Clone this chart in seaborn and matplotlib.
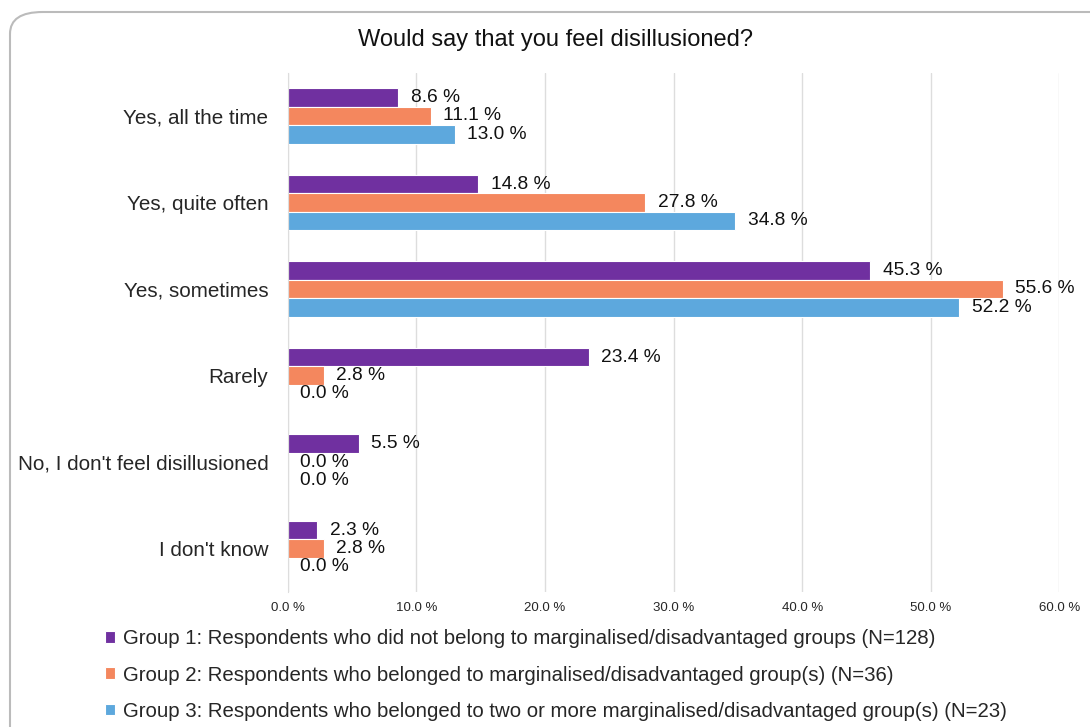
import pandas as pd
import seaborn as sns
import matplotlib.pyplot as plt
from matplotlib.patches import FancyBboxPatch

answers = ["Yes, all the time", "Yes, quite often", "Yes, sometimes", "Rarely",
           "No, I don't feel disillusioned", "I don't know"]
groups = ["Group 1: Respondents who did not belong to marginalised/disadvantaged groups (N=128)",
          "Group 2: Respondents who belonged to marginalised/disadvantaged group(s) (N=36)",
          "Group 3: Respondents who belonged to two or more marginalised/disadvantaged group(s) (N=23)"]
group1 = [8.6, 14.8, 45.3, 23.4, 5.5, 2.3]
group2 = [11.1, 27.8, 55.6, 2.8, 0.0, 2.8]
group3 = [13.0, 34.8, 52.2, 0.0, 0.0, 0.0]
colors = ["#7030A0", "#F4875E", "#5DA8DD"]
xticks = [0, 10, 20, 30, 40, 50, 60]

rows = []
for g, vals in zip(groups, [group1, group2, group3]):
    for a, v in zip(answers, vals):
        rows.append({"answer": a, "group": g, "value": v})
df = pd.DataFrame(rows)

sns.set_style("white")
plt.rcParams['font.family'] = ['Liberation Sans', 'DejaVu Sans']

fig = plt.figure(figsize=(10.9, 7.27), dpi=100)
ax = fig.add_axes([0.264, 0.186, 0.708, 0.714])

# rounded frame around the chart
frame = FancyBboxPatch((10 / 1090, -0.1), 1.2, 1 - 12 / 727 + 0.1,
                       boxstyle="round,pad=0,rounding_size=0.03",
                       transform=fig.transFigure, facecolor="white",
                       edgecolor="#BBBBBB", linewidth=1.5, zorder=-10)
fig.patches.append(frame)

sns.barplot(data=df, y="answer", x="value", hue="group", orient="h",
            palette=colors, saturation=1, width=0.64, ax=ax,
            edgecolor="white", linewidth=0.8)

for c in ax.containers:
    ax.bar_label(c, labels=[f"{v:.1f} %" for v in c.datavalues],
                 padding=9, fontsize=13.8, color="#111111")

ax.set_xlim(0, 60)
ax.set_xticks(xticks)
ax.set_xticklabels([f"{t:.1f} %" for t in xticks], fontsize=9.5)
ax.xaxis.grid(True, color="#DDDDDD", linewidth=1)
ax.set_axisbelow(True)
for s in ["top", "right", "bottom"]:
    ax.spines[s].set_visible(False)
ax.spines["left"].set_color("#DDDDDD")
ax.tick_params(axis="y", length=0, pad=14, labelsize=14.9)
ax.tick_params(axis="x", length=0, pad=7)
ax.set_xlabel("")
ax.set_ylabel("")

handles, labels = ax.get_legend_handles_labels()
ax.get_legend().remove()
fig.legend(handles, labels, loc="upper left", bbox_to_anchor=(97 / 1090, 1 - 621 / 727),
           frameon=False, fontsize=14.7, handlelength=0.5, handleheight=0.5,
           handletextpad=0.35, labelspacing=0.85, borderaxespad=0)

fig.text(556 / 1090, 1 - 40 / 727, "Would say that you feel disillusioned?",
         ha="center", va="center", fontsize=17, color="#111111")

fig.savefig("out.png", dpi=100)
